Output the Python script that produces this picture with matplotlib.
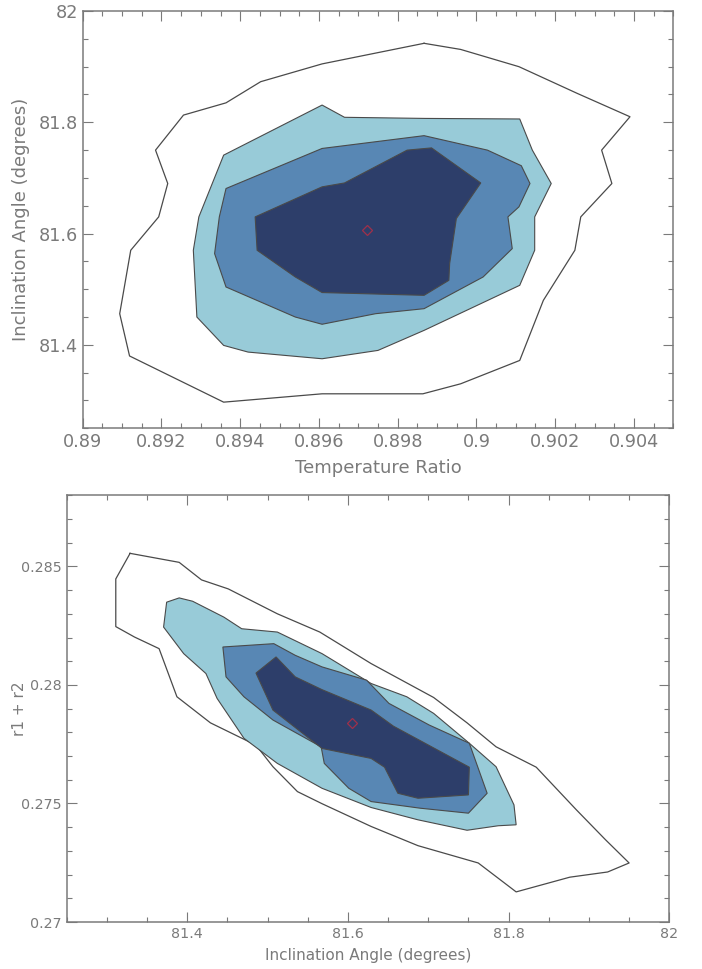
import matplotlib
matplotlib.use("Agg")
import matplotlib.pyplot as plt
from matplotlib.ticker import MultipleLocator, FuncFormatter

# ---------------- Data: top panel (Temperature Ratio vs Inclination) ----------------
top_outer_x = [0.89867, 0.89960, 0.90108, 0.90256, 0.90390, 0.90318, 0.90344, 0.90265,
               0.90250, 0.90170, 0.90110, 0.89960, 0.89864, 0.89608, 0.89358, 0.89119,
               0.89094, 0.89122, 0.89193, 0.89216, 0.89185, 0.89256, 0.89364, 0.89452,
               0.89608]
top_outer_y = [81.942, 81.931, 81.900, 81.852, 81.810, 81.750, 81.690, 81.630,
               81.570, 81.480, 81.372, 81.330, 81.312, 81.312, 81.297, 81.380,
               81.456, 81.570, 81.630, 81.690, 81.750, 81.813, 81.835, 81.873,
               81.905]

top_light_x = [0.89608, 0.89665, 0.89869, 0.90110, 0.90142, 0.90190, 0.90148, 0.90148,
               0.90110, 0.89867, 0.89750, 0.89608, 0.89420, 0.89358, 0.89290, 0.89281,
               0.89295, 0.89358]
top_light_y = [81.831, 81.809, 81.807, 81.806, 81.750, 81.690, 81.630, 81.570,
               81.507, 81.426, 81.390, 81.375, 81.387, 81.399, 81.450, 81.570,
               81.630, 81.741]

top_mid_x = [0.89364, 0.89608, 0.89867, 0.90028, 0.90114, 0.90136, 0.90108, 0.90080,
             0.90091, 0.90017, 0.89867, 0.89744, 0.89608, 0.89540, 0.89364, 0.89335,
             0.89347]
top_mid_y = [81.681, 81.753, 81.776, 81.750, 81.722, 81.690, 81.648, 81.630,
             81.573, 81.522, 81.465, 81.456, 81.437, 81.450, 81.504, 81.564,
             81.630]

top_dark_x = [0.89438, 0.89608, 0.89665, 0.89824, 0.89886, 0.90011, 0.89949, 0.89932,
              0.89930, 0.89867, 0.89608, 0.89540, 0.89443]
top_dark_y = [81.630, 81.684, 81.691, 81.750, 81.754, 81.691, 81.627, 81.546,
              81.516, 81.489, 81.494, 81.522, 81.570]

top_best_x = [0.89722]
top_best_y = [81.606]

# ---------------- Data: bottom panel (Inclination vs r1 + r2) ----------------
bot_outer_x = [81.3289, 81.3900, 81.4178, 81.4511, 81.5122, 81.5650, 81.6289, 81.7067,
               81.7483, 81.7844, 81.8344, 81.8844, 81.9206, 81.9500, 81.9233, 81.8761,
               81.8094, 81.7622, 81.6872, 81.6289, 81.5678, 81.5372, 81.5067, 81.4856,
               81.4289, 81.3872, 81.3650, 81.3344, 81.3111, 81.3111]
bot_outer_y = [0.28555, 0.28517, 0.28443, 0.28405, 0.28300, 0.28223, 0.28090, 0.27947,
               0.27840, 0.27739, 0.27653, 0.27473, 0.27347, 0.27249, 0.27211, 0.27189,
               0.27127, 0.27249, 0.27322, 0.27403, 0.27499, 0.27550, 0.27655, 0.27746,
               0.27840, 0.27950, 0.28153, 0.28202, 0.28246, 0.28447]

bot_light_x = [81.3744, 81.3900, 81.4067, 81.4456, 81.4678, 81.5122, 81.5678, 81.6289,
               81.6733, 81.7067, 81.7511, 81.7844, 81.8067, 81.8094, 81.7872, 81.7483,
               81.6872, 81.6289, 81.5678, 81.5122, 81.4706, 81.4372, 81.4233, 81.3956,
               81.3706]
bot_light_y = [0.28349, 0.28367, 0.28353, 0.28286, 0.28237, 0.28223, 0.28132, 0.28006,
               0.27950, 0.27880, 0.27754, 0.27655, 0.27494, 0.27410, 0.27406, 0.27387,
               0.27431, 0.27483, 0.27564, 0.27669, 0.27775, 0.27943, 0.28048, 0.28132,
               0.28244]

bot_mid_x = [81.4444, 81.5078, 81.5344, 81.5678, 81.6233, 81.6511, 81.7011, 81.7511,
             81.7733, 81.7500, 81.6900, 81.6289, 81.6011, 81.5706, 81.5667, 81.5067,
             81.4706, 81.4483]
bot_mid_y = [0.28160, 0.28174, 0.28125, 0.28076, 0.28020, 0.27922, 0.27831, 0.27754,
             0.27543, 0.27459, 0.27480, 0.27508, 0.27564, 0.27669, 0.27739, 0.27852,
             0.27950, 0.28034]

bot_dark_x = [81.4856, 81.5106, 81.5344, 81.5678, 81.6289, 81.6567, 81.7511, 81.7500,
              81.6872, 81.6622, 81.6456, 81.6289, 81.5678, 81.5067]
bot_dark_y = [0.28050, 0.28118, 0.28034, 0.27980, 0.27894, 0.27826, 0.27653, 0.27536,
              0.27522, 0.27543, 0.27653, 0.27690, 0.27732, 0.27894]

bot_best_x = [81.605]
bot_best_y = [0.27838]

# ---------------- Styling ----------------
LIGHT = "#98CBD8"
MID = "#5887B4"
DARK = "#2D3E6A"
EDGE = "#4a4a4a"
GRAY = "#7a7a7a"
MARK = "#a0304a"

fig = plt.figure(figsize=(7.02, 9.69), dpi=100)
ax1 = fig.add_axes([0.1178, 0.558, 0.8413, 0.4306])
ax2 = fig.add_axes([0.0950, 0.0485, 0.8584, 0.4404])


def closed(xs, ys):
    return list(xs) + [xs[0]], list(ys) + [ys[0]]


def draw(ax, outer, light, mid, dark, best):
    ox, oy = closed(*outer)
    ax.plot(ox, oy, color=EDGE, lw=0.9, zorder=2)
    for (px, py), col, z in [(light, LIGHT, 3), (mid, MID, 4), (dark, DARK, 5)]:
        ax.fill(px, py, facecolor=col, edgecolor=EDGE, lw=0.8, zorder=z)
    ax.plot(best[0], best[1], marker="D", ms=5.5, mfc="none", mec=MARK,
            mew=0.9, ls="none", zorder=6)


def style(ax, fs, major_x, minor_x, major_y, minor_y):
    fmt = FuncFormatter(lambda v, p: "%g" % round(v, 6))
    ax.xaxis.set_major_locator(MultipleLocator(major_x))
    ax.xaxis.set_minor_locator(MultipleLocator(minor_x))
    ax.yaxis.set_major_locator(MultipleLocator(major_y))
    ax.yaxis.set_minor_locator(MultipleLocator(minor_y))
    ax.xaxis.set_major_formatter(fmt)
    ax.yaxis.set_major_formatter(fmt)
    ax.tick_params(which="both", direction="in", top=True, right=True,
                   color=GRAY, labelcolor=GRAY, labelsize=fs, width=0.8)
    ax.tick_params(which="major", length=7)
    ax.tick_params(which="minor", length=3.5)
    for s in ax.spines.values():
        s.set_color(GRAY)
        s.set_linewidth(1.1)


draw(ax1, (top_outer_x, top_outer_y), (top_light_x, top_light_y),
     (top_mid_x, top_mid_y), (top_dark_x, top_dark_y), (top_best_x, top_best_y))
ax1.set_xlim(0.89, 0.905)
ax1.set_ylim(81.25, 82.0)
style(ax1, 12.7, 0.002, 0.0005, 0.2, 0.05)
ax1.set_xlabel("Temperature Ratio", fontsize=13, color=GRAY, labelpad=6)
ax1.set_ylabel("Inclination Angle (degrees)", fontsize=13, color=GRAY, labelpad=6)

draw(ax2, (bot_outer_x, bot_outer_y), (bot_light_x, bot_light_y),
     (bot_mid_x, bot_mid_y), (bot_dark_x, bot_dark_y), (bot_best_x, bot_best_y))
ax2.set_xlim(81.25, 82.0)
ax2.set_ylim(0.27, 0.288)
style(ax2, 10.3, 0.2, 0.05, 0.005, 0.001)
ax2.set_xlabel("Inclination Angle (degrees)", fontsize=11, color=GRAY, labelpad=5)
ax2.set_ylabel("r1 + r2", fontsize=11, color=GRAY)
ax2.yaxis.set_label_coords(-0.066, 0.5)

fig.savefig("out.png", dpi=100)
